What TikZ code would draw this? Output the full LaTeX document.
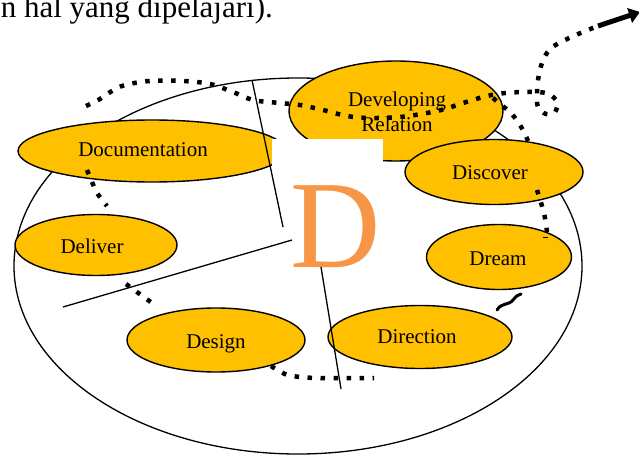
\documentclass[tikz,border=0pt]{standalone}
\usepackage{fontspec}
\setmainfont{Liberation Serif}
\usetikzlibrary{shapes.geometric,arrows.meta}
\definecolor{goldfill}{HTML}{FFC000}
\definecolor{dorange}{HTML}{F79646}
\begin{document}
\begin{tikzpicture}[x=1pt,y=-1pt,
  goldell/.style={ellipse, draw=black, line width=1.4pt, fill=goldfill, inner sep=0pt},
  lbl/.style={font=\fontsize{21}{25}\selectfont, anchor=base, inner sep=0pt},
  dots/.style={line width=4.5pt, dash pattern=on 4.5pt off 8.5pt, line cap=butt},
  thinline/.style={line width=1.3pt},
]
\useasboundingbox (0,0) rectangle (639,457);
% top text
\node[font=\fontsize{31}{36}\selectfont, anchor=base east, inner sep=0pt] (toptext) at (273,18) {n hal yang dipelajari).};
% outer ellipse
\node[ellipse, draw, line width=1.3pt, minimum width=568pt, minimum height=376pt, inner sep=0pt] (outer) at (298,266) {};
% yellow ellipses
\node[goldell, minimum width=214pt, minimum height=100pt] (dev) at (396,111) {};
\node[goldell, minimum width=268pt, minimum height=62pt] (doc) at (152,151) {};
\node[goldell, minimum width=162pt, minimum height=61pt] (del) at (96,245) {};
\node[goldell, minimum width=178pt, minimum height=65pt] (disc) at (494,172) {};
\node[goldell, minimum width=145pt, minimum height=65pt] (dream) at (499,257) {};
\node[goldell, minimum width=178pt, minimum height=64pt] (des) at (216,340) {};
\node[goldell, minimum width=184pt, minimum height=63pt] (dir) at (420,337) {};
% labels
\node[lbl] (devT1) at (397,107) {Developing};
\node[lbl] (devT2) at (397,132) {Relation};
\node[lbl] (docT) at (143,157) {Documentation};
\node[lbl] (delT) at (92,253) {Deliver};
\node[lbl] (discT) at (490,179) {Discover};
\node[lbl] (dreamT) at (498,265) {Dream};
\node[lbl] (desT) at (216,348) {Design};
\node[lbl] (dirT) at (417,343) {Direction};
% white box and D
\node[fill=white, inner sep=0pt, minimum width=111pt, minimum height=136pt, anchor=north west] (wbox) at (272,139) {};
\node[text=dorange, font=\fontsize{125}{125}\selectfont, anchor=base, inner sep=0pt] (bigD) at (336,267) {D};
% thin lines
\coordinate (l1a) at (252,80);
\coordinate (l1b) at (283,227);
\coordinate (l2a) at (63,307);
\coordinate (l2b) at (292,240);
\coordinate (l3a) at (321,267);
\coordinate (l3b) at (341,389);
\draw[thinline] (l1a) -- (l1b);
\draw[thinline] (l2a) -- (l2b);
\draw[thinline] (l3a) -- (l3b);
% dotted paths
\coordinate (aS) at (86,106);
\coordinate (aE) at (598,26);
\draw[dots] plot[smooth, tension=0.55] coordinates {(aS) (100,99) (112,91) (125,85) (150,81) (183,81) (210,84) (233,92) (253,100) (280,103) (300,105) (323,110) (347,116) (370,118) (400,117) (427,113) (445,109) (463,103) (487,96) (505,93) (523,92) (537,92) (549,94) (557,102) (555,112) (546,114) (538,107) (537,95) (538,80) (542,63) (550,49) (565,40) (583,32) (aE)};
\coordinate (bS) at (493,98);
\coordinate (bE) at (528,141);
\draw[dots] plot[smooth] coordinates {(bS) (500,104) (510,112) (518,122) (524,132) (bE)};
\coordinate (cS) at (87,170);
\coordinate (cE) at (107,206);
\draw[dots] plot[smooth] coordinates {(cS) (92,182) (97,193) (cE)};
\coordinate (dS) at (126,284);
\coordinate (dE) at (152,303);
\draw[dots] (dS) -- (dE);
\coordinate (eS) at (271,366);
\coordinate (eE) at (374,378);
\draw[dots] plot[smooth] coordinates {(eS) (285,374) (300,377) (320,378) (eE)};
\coordinate (fS) at (537,190);
\coordinate (fE) at (547,232);
\draw[dots] plot[smooth] coordinates {(fS) (542,206) (545,218) (fE)};
% small tick
\coordinate (tk1) at (543,237);
\coordinate (tk2) at (548,237);
\draw[line width=1pt] (tk1) -- (tk2);
% solid arrow
\coordinate (arE) at (640,12);
\draw[line width=5pt, -{Triangle[length=11pt,width=15pt]}] (aE) -- (arE);
% squiggle
\coordinate (sq1) at (497,310);
\coordinate (sq2) at (521,294);
\draw[line width=3pt, line cap=round] (sq1) .. controls (502,302) and (508,306) .. (513,300) .. controls (516,296) and (518,295) .. (sq2);
\end{tikzpicture}
\end{document}
